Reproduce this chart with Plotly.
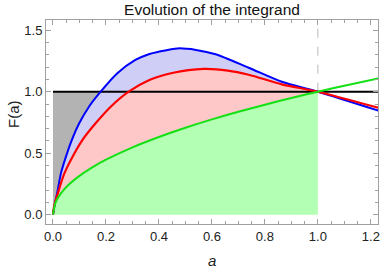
import plotly.graph_objects as go

# Values
a_blue = [0, 0.005, 0.018, 0.030, 0.049, 0.071, 0.099, 0.136, 0.180, 0.243, 0.311, 0.364,
          0.399, 0.470, 0.540, 0.614, 0.739, 0.864, 1.0, 1.23]
F_blue = [0, 0.065, 0.20, 0.336, 0.472, 0.607, 0.743, 0.878, 1.0, 1.15, 1.258, 1.307,
          1.325, 1.352, 1.340, 1.305, 1.195, 1.081, 1.0, 0.845]

a_red = [0, 0.004, 0.022, 0.043, 0.074, 0.111, 0.161, 0.218, 0.286, 0.364, 0.45, 0.570,
         0.660, 0.739, 0.864, 1.0, 1.23]
F_red = [0, 0.065, 0.20, 0.336, 0.472, 0.607, 0.743, 0.878, 1.0, 1.095, 1.152, 1.185,
         1.172, 1.138, 1.06, 1.0, 0.868]

a_green = [0, 0.01, 0.03, 0.06, 0.1, 0.15, 0.2, 0.3, 0.4, 0.5, 0.6, 0.7, 0.8, 0.9, 1.0, 1.1, 1.23]
F_green = [0, 0.1, 0.173, 0.245, 0.316, 0.387, 0.447, 0.548, 0.632, 0.707, 0.775, 0.837,
           0.894, 0.949, 1.0, 1.049, 1.109]

a_ref = [0, 1.23]
F_ref = [1.0, 1.0]
a_cross_blue = 0.180   # where blue meets F = 1
a_end = 1.0            # end of shaded region

x_ticks = [0.0, 0.2, 0.4, 0.6, 0.8, 1.0, 1.2]
y_ticks = [0.0, 0.5, 1.0, 1.5]


def upto(xs, ys, xmax):
    px = [x for x in xs if x <= xmax + 1e-9]
    return px, ys[:len(px)]


fig = go.Figure()
sp = dict(shape="spline", smoothing=0.8, width=0)

gx, gy = upto(a_green, F_green, a_end)
rx, ry = upto(a_red, F_red, a_end)
bx, by = upto(a_blue, F_blue, a_end)
fig.add_trace(go.Scatter(x=gx, y=gy, mode="lines", line=sp, fill="tozeroy",
                         fillcolor="rgb(179,255,179)", hoverinfo="skip"))
fig.add_trace(go.Scatter(x=rx, y=ry, mode="lines", line=sp, fill="tonexty",
                         fillcolor="rgb(255,200,200)", hoverinfo="skip"))
fig.add_trace(go.Scatter(x=bx, y=by, mode="lines", line=sp, fill="tonexty",
                         fillcolor="rgb(206,206,246)", hoverinfo="skip"))
cx, cy = upto(a_blue, F_blue, a_cross_blue)
fig.add_trace(go.Scatter(x=cx, y=cy, mode="lines", line=sp, hoverinfo="skip"))
fig.add_trace(go.Scatter(x=[0, a_cross_blue], y=[1.0, 1.0], mode="lines",
                         line=dict(width=0), fill="tonexty",
                         fillcolor="rgb(179,179,179)", hoverinfo="skip"))

fig.add_trace(go.Scatter(x=a_ref, y=F_ref, mode="lines",
                         line=dict(color="black", width=2)))
fig.add_trace(go.Scatter(x=a_blue, y=F_blue, mode="lines",
                         line=dict(color="rgb(0,0,255)", width=2, shape="spline", smoothing=0.8)))
fig.add_trace(go.Scatter(x=a_red, y=F_red, mode="lines",
                         line=dict(color="rgb(255,0,0)", width=2.2, shape="spline", smoothing=0.8)))
fig.add_trace(go.Scatter(x=a_green, y=F_green, mode="lines",
                         line=dict(color="rgb(20,225,20)", width=2, shape="spline", smoothing=0.8)))

fig.add_shape(type="line", xref="x", yref="y", x0=1.0, x1=1.0, y0=1.0, y1=1.583,
              line=dict(color="rgb(185,185,185)", width=1, dash="dash"), layer="below")

axis_common = dict(showline=True, mirror="ticks", linecolor="rgb(160,160,160)", linewidth=1,
                   ticks="inside", tickcolor="rgb(160,160,160)", ticklen=5, tickwidth=1,
                   showgrid=False, zeroline=False, tickformat=".1f",
                   tickfont=dict(family="Liberation Sans", size=13, color="#222"))

fig.update_layout(
    width=382, height=268,
    margin=dict(l=46, r=2, t=20, b=44),
    paper_bgcolor="white", plot_bgcolor="white",
    showlegend=False,
    title=dict(text="Evolution of the integrand", x=0.5, xref="paper", xanchor="center",
               y=1 - 9.5 / 268, yref="container", yanchor="middle",
               font=dict(family="Liberation Sans", size=15.5, color="#111")),
    xaxis=dict(range=[-0.0263, 1.227], tickvals=x_ticks,
               minor=dict(ticks="inside", ticklen=3, dtick=0.05, tickcolor="rgb(160,160,160)"),
               **axis_common),
    yaxis=dict(range=[-0.0756, 1.583], tickvals=y_ticks,
               minor=dict(ticks="inside", ticklen=3, dtick=0.1, tickcolor="rgb(160,160,160)"),
               **axis_common),
    annotations=[
        dict(text="<i>a</i>", x=0.5, xref="paper", y=0, yref="paper", yanchor="middle",
             yshift=-36, showarrow=False,
             font=dict(family="Liberation Sans", size=15, color="#222")),
        dict(text="F(a)", textangle=-90, x=0, xref="paper", xanchor="center", xshift=-33,
             y=0.5, yref="paper", yshift=8, showarrow=False,
             font=dict(family="Liberation Sans", size=15, color="#222")),
    ],
)

fig.write_html("out.html", config={"displayModeBar": False},
               post_script="document.body.style.margin='0';document.body.style.overflow='hidden';")
